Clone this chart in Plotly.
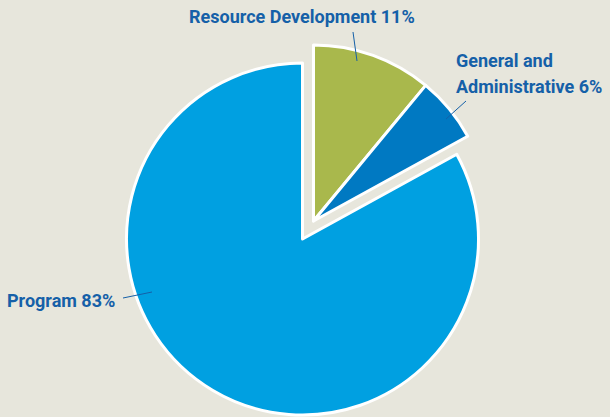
import plotly.graph_objects as go

labels = ["Resource Development", "General and Administrative", "Program"]
values = [11, 6, 83]
colors = ["#A9B84C", "#0079C2", "#00A0E1"]
label_lines = ["Resource Development 11%", "General and", "Administrative 6%", "Program 83%"]

W, H = 610, 417
BG = "#E7E6DC"
TXT = "#1560A8"
FONT = "Roboto"

def px(x):
    return x / W

def py(y):
    return 1 - y / H

# pie geometry (pixels)
cx, cy, r = 302.5, 239, 176
dx, dy = 11, -18  # offset of the pulled-out group

def dom(cx_, cy_):
    return dict(x=[px(cx_ - r), px(cx_ + r)], y=[py(cy_ + r), py(cy_ - r)])

clear = "rgba(0,0,0,0)"
fig = go.Figure()
fig.add_trace(go.Pie(
    labels=labels, values=values, sort=False, direction="clockwise", rotation=0,
    marker=dict(colors=[clear, clear, colors[2]],
                line=dict(color=[clear, clear, "white"], width=3)),
    textinfo="none", hoverinfo="skip", showlegend=False, domain=dom(cx, cy),
))
fig.add_trace(go.Pie(
    labels=labels, values=values, sort=False, direction="clockwise", rotation=0,
    marker=dict(colors=[colors[0], colors[1], clear],
                line=dict(color=["white", "white", clear], width=3)),
    textinfo="none", hoverinfo="skip", showlegend=False, domain=dom(cx + dx, cy + dy),
))

# leader lines (pixel coords)
leaders = [((353, 32), (357, 61)), ((466, 101), (446, 119)), ((123, 298), (152, 292))]
for (x0, y0), (x1, y1) in leaders:
    fig.add_shape(type="line", xref="paper", yref="paper",
                  x0=px(x0), y0=py(y0), x1=px(x1), y1=py(y1),
                  line=dict(color="#1560A8", width=1))

ann_pos = [(302, 17, "center"), (454, 60, "left"), (454, 86, "left"), (5, 300, "left")]
for t, (x, y, al) in zip(label_lines, ann_pos):
    fig.add_annotation(x=px(x), y=py(y), xref="paper", yref="paper", text=t,
                       showarrow=False, xanchor=al, yanchor="middle", align="left",
                       font=dict(family=FONT, size=18, color=TXT, weight="bold"))

fig.update_layout(width=W, height=H, margin=dict(l=0, r=0, t=0, b=0),
                  paper_bgcolor=BG, plot_bgcolor=BG)
fig.write_html("out.html", config={"displayModeBar": False},
               post_script="document.body.style.margin='0';document.body.style.background='%s';" % BG)
